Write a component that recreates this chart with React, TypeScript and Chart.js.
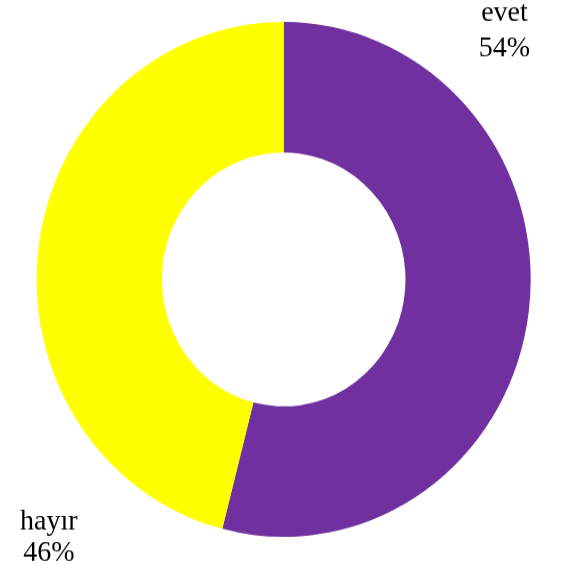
import React, { useEffect, useRef } from "react";
import { Chart, registerables } from "chart.js";

Chart.register(...registerables);

const categories = ["evet", "hayır"];
const values = [54, 46];
const percentLabels = ["54%", "46%"];
const colors = ["#7030A0", "#FFFF00"];

const W = 561;
const H = 543;
const SCALE_Y = 566 / 543;

// label placement relative to arc centre (layout only)
const labelOffsets = [
  { dx: 220.8, dy: -248, lh: 34.3 },
  { dx: -234.9, dy: 240.3, lh: 29.6 },
];

const labelPlugin = {
  id: "outerLabels",
  afterDraw(chart: any) {
    const ctx = chart.ctx;
    const meta = chart.getDatasetMeta(0);
    ctx.save();
    ctx.font = "28px 'Liberation Serif'";
    ctx.fillStyle = "#000";
    ctx.textAlign = "center";
    ctx.textBaseline = "alphabetic";
    meta.data.forEach((arc: any, i: number) => {
      const o = labelOffsets[i];
      const x = arc.x + o.dx;
      const y = arc.y + o.dy;
      ctx.fillText(categories[i], x, y);
      ctx.fillText(percentLabels[i], x, y + o.lh);
    });
    ctx.restore();
  },
};

export default function App() {
  const ref = useRef<HTMLCanvasElement>(null);
  useEffect(() => {
    const chart = new Chart(ref.current!, {
      type: "doughnut",
      data: {
        labels: categories,
        datasets: [
          {
            data: values,
            backgroundColor: colors,
            borderWidth: 0,
          },
        ],
      },
      options: {
        responsive: false,
        maintainAspectRatio: false,
        animation: false,
        devicePixelRatio: 1,
        cutout: "49.3%",
        layout: { padding: { left: 36.7, right: 30.3, top: 21.1, bottom: 27.9 } },
        plugins: {
          legend: { display: false },
          tooltip: { enabled: false },
        },
      },
      plugins: [labelPlugin],
    });
    return () => chart.destroy();
  }, []);
  return (
    <div style={{ position: "fixed", left: 0, top: 0, width: W, height: 566, overflow: "hidden", background: "#fff" }}>
      <canvas
        ref={ref}
        width={W}
        height={H}
        style={{ display: "block", width: W, height: H, transform: `scaleY(${SCALE_Y})`, transformOrigin: "0 0" }}
      />
    </div>
  );
}
